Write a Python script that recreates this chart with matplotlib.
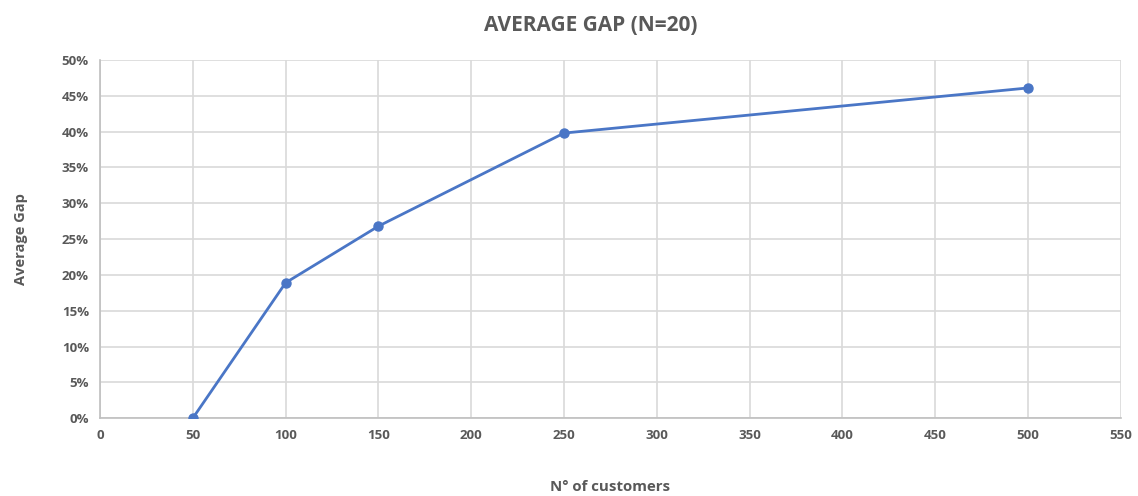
import matplotlib
matplotlib.use("Agg")
import matplotlib.pyplot as plt
from matplotlib.ticker import PercentFormatter

# Data
customers = [50, 100, 150, 250, 500]
avg_gap = [0.0, 18.9, 26.8, 39.8, 46.1]

x_ticks = list(range(0, 551, 50))
y_ticks = list(range(0, 51, 5))

plt.rcParams['font.family'] = ['Open Sans', 'DejaVu Sans']
grey = '#595959'

fig = plt.figure(figsize=(11.38, 4.96), dpi=100)
ax = fig.add_axes([0.0879, 0.157, 0.897, 0.722])

ax.plot(customers, avg_gap, color='#4a76c6', lw=2, marker='o', ms=6.5, zorder=3)

ax.set_xlim(0, 550)
ax.set_ylim(0, 50)
ax.set_xticks(x_ticks)
ax.set_yticks(y_ticks)
ax.yaxis.set_major_formatter(PercentFormatter(decimals=0))

ax.grid(True, color='#d9d9d9', lw=1.2)
ax.set_axisbelow(True)
for side in ['top', 'right']:
    ax.spines[side].set_visible(False)
for side in ['left', 'bottom']:
    ax.spines[side].set_color('#bfbfbf')
    ax.spines[side].set_linewidth(1.2)

ax.tick_params(length=0, pad=8, labelsize=9.5, labelcolor=grey)
for lab in ax.get_xticklabels() + ax.get_yticklabels():
    lab.set_fontweight('bold')

ax.set_xlabel("N° of customers", fontsize=10.8, fontweight='bold', color=grey, labelpad=27)
ax.set_ylabel("Average Gap", fontsize=10.5, fontweight='bold', color=grey, labelpad=24)
fig.suptitle("AVERAGE GAP (N=20)", fontsize=15, fontweight='bold', color=grey,
             x=0.519, y=0.97)

fig.savefig("out.png", dpi=100)
